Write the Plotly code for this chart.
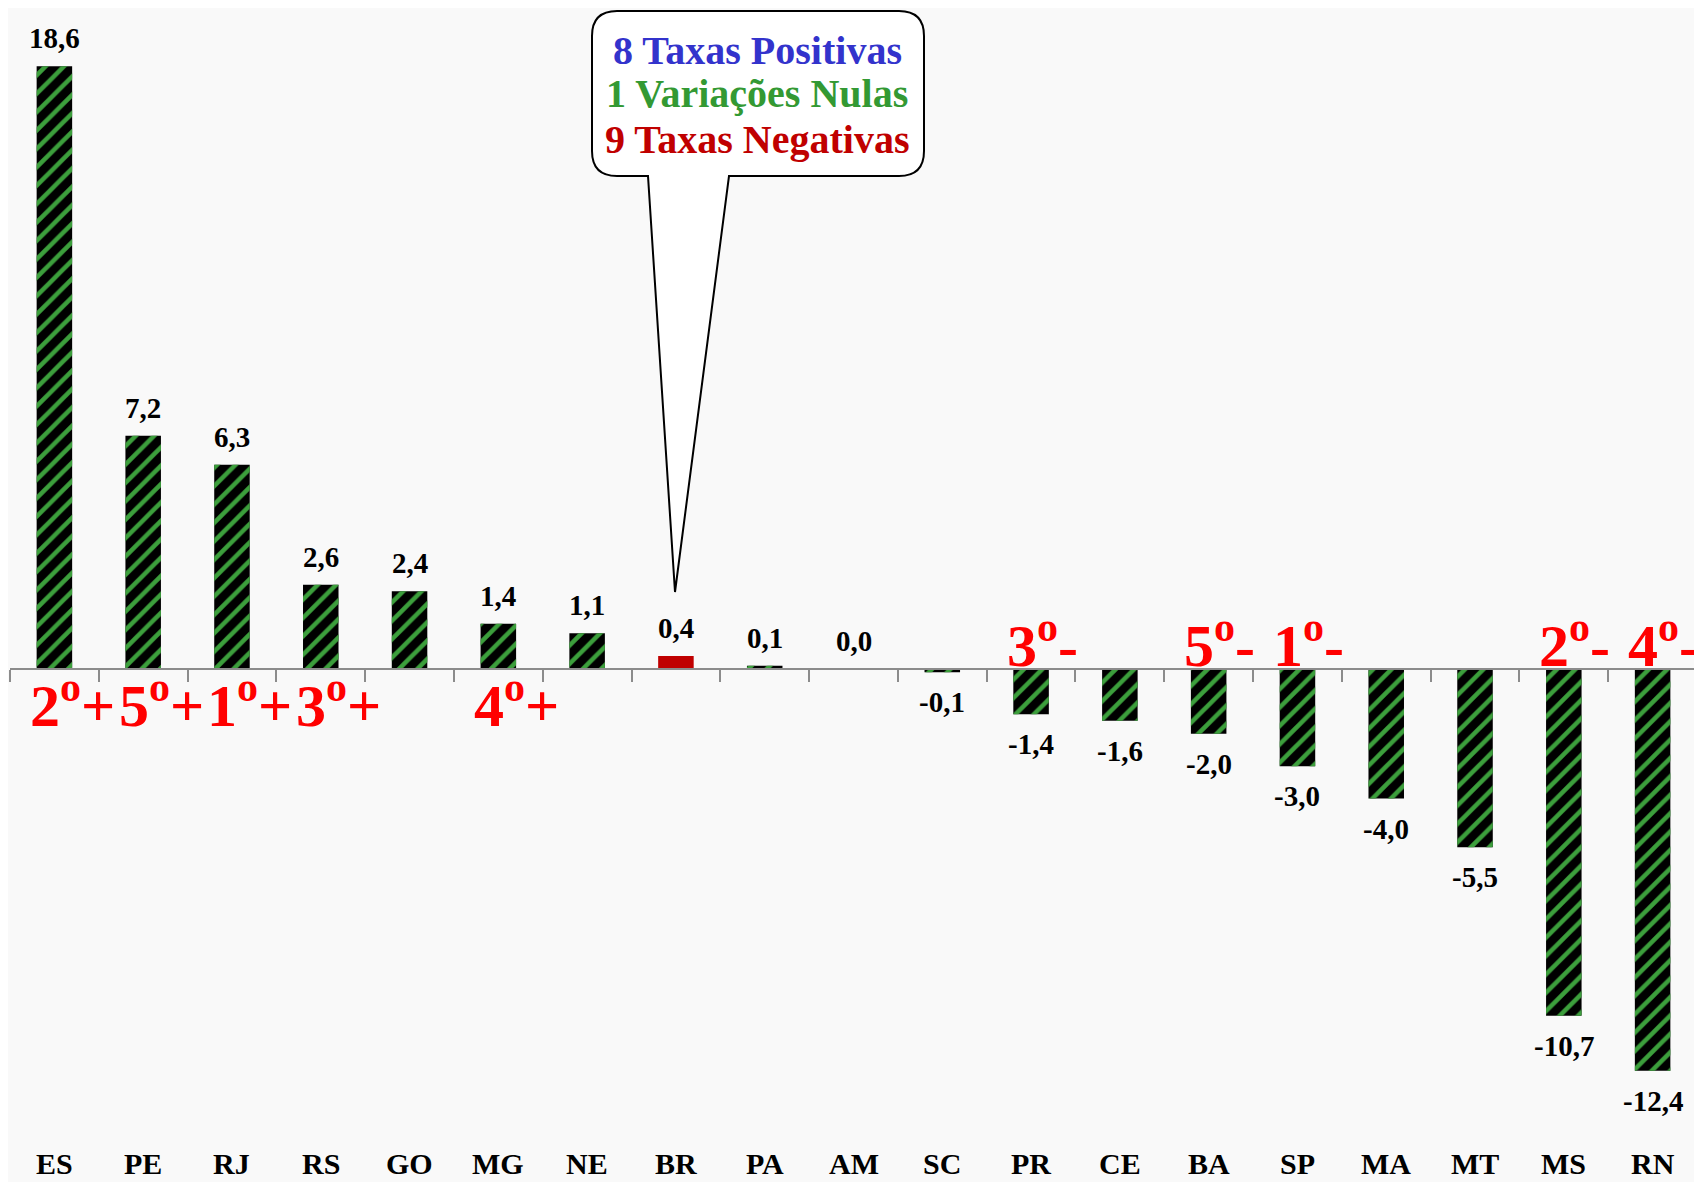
import plotly.graph_objects as go

categories = ["ES", "PE", "RJ", "RS", "GO", "MG", "NE", "BR", "PA", "AM",
              "SC", "PR", "CE", "BA", "SP", "MA", "MT", "MS", "RN"]
values = [18.6, 7.2, 6.3, 2.6, 2.4, 1.4, 1.1, 0.4, 0.1, 0.0,
          -0.1, -1.4, -1.6, -2.0, -3.0, -4.0, -5.5, -10.7, -12.4]
rank_labels = ["2", "5", "1", "3", "", "4", "", "", "", "",
               "", "3", "", "5", "1", "", "", "2", "4"]
callout_lines = ["8 Taxas Positivas", "1 Variações Nulas", "9 Taxas Negativas"]
callout_colors = ["#3333CC", "#339933", "#C00000"]

OFF = 8  # page body margin
W, H = 1702 - OFF, 1182 - OFF
ML, MR, MT, MB = 2, 5, 2, 40
PW, PH = W - ML - MR, H - MT - MB
Y_MAX, Y_MIN = 20.34, -14.6
zero_pos = (0 - Y_MIN) / (Y_MAX - Y_MIN)

xs = list(range(len(categories)))
FONT = "Liberation Serif"

base_colors = ["#C00000" if c == "BR" else "#000000" for c in categories]
stripe_colors = ["rgba(0,0,0,0)" if c == "BR" else "#3C9F3C" for c in categories]
stripe_shapes = ["" if c == "BR" else "/" for c in categories]

fig = go.Figure()
# solid base bars
fig.add_trace(go.Bar(
    x=xs, y=values, width=0.4,
    marker=dict(color=base_colors, line=dict(width=0)),
    hoverinfo="skip",
))
# green diagonal hatching on top
fig.add_trace(go.Bar(
    x=xs, y=values, width=0.4,
    marker=dict(color=stripe_colors, line=dict(width=0),
                pattern=dict(shape=stripe_shapes, fillmode="replace",
                             size=13, solidity=0.35, fgopacity=1)),
    hoverinfo="skip",
))

ann = []
# value labels
for x, v in zip(xs, values):
    txt = f"{v:.1f}".replace(".", ",")
    if v >= 0:
        ann.append(dict(x=x, y=v, text=txt, showarrow=False, yanchor="bottom",
                        yshift=10, font=dict(family=FONT, size=29, color="#000", weight="bold")))
    else:
        ann.append(dict(x=x, y=v, text=txt, showarrow=False, yanchor="top",
                        yshift=-12, font=dict(family=FONT, size=29, color="#000", weight="bold")))
# rank labels
for x, v, r in zip(xs, values, rank_labels):
    if not r:
        continue
    if v > 0:
        ann.append(dict(x=x, y=0, text=f"{r}<sup>o</sup>+", showarrow=False, yanchor="top",
                        xshift=18, yshift=7,
                        font=dict(family=FONT, size=60, color="#FF0000", weight="bold")))
    else:
        ann.append(dict(x=x, y=0, text=f"{r}<sup>o</sup>-", showarrow=False, yanchor="bottom",
                        xshift=11, yshift=-12,
                        font=dict(family=FONT, size=60, color="#FF0000", weight="bold")))
# category labels
for x, c in zip(xs, categories):
    ann.append(dict(x=x, y=0, yref="paper", text=c, showarrow=False, yanchor="top",
                    yshift=-3, font=dict(family=FONT, size=30, color="#000", weight="bold")))

# callout (decoration, page pixel layout converted to paper coords)
def px(xp):
    return (xp - OFF - ML) / PW

def py(yp):
    return (MT + PH - (yp - OFF)) / PH

bx0, bx1, by0, by1, r = 592, 924, 11, 176, 25
p1, p2, tipx, tipy = 648, 729, 675, 592
path = (
    f"M {px(bx0 + r)},{py(by0)} L {px(bx1 - r)},{py(by0)} "
    f"Q {px(bx1)},{py(by0)} {px(bx1)},{py(by0 + r)} "
    f"L {px(bx1)},{py(by1 - r)} Q {px(bx1)},{py(by1)} {px(bx1 - r)},{py(by1)} "
    f"L {px(p2)},{py(by1)} L {px(tipx)},{py(tipy)} L {px(p1)},{py(by1)} "
    f"L {px(bx0 + r)},{py(by1)} Q {px(bx0)},{py(by1)} {px(bx0)},{py(by1 - r)} "
    f"L {px(bx0)},{py(by0 + r)} Q {px(bx0)},{py(by0)} {px(bx0 + r)},{py(by0)} Z"
)
fig.add_shape(type="path", xref="paper", yref="paper", path=path,
              fillcolor="#FFFFFF", line=dict(color="#000000", width=2), layer="above")

for line, col, yc in zip(callout_lines, callout_colors, [50, 94, 139]):
    ann.append(dict(x=px(757), y=py(yc), xref="paper", yref="paper", text=line,
                    showarrow=False, xanchor="center", yanchor="middle",
                    font=dict(family=FONT, size=40, color=col, weight="bold")))

fig.update_layout(
    width=W, height=H,
    margin=dict(l=ML, r=MR, t=MT, b=MB),
    paper_bgcolor="#F9F9F9", plot_bgcolor="#F9F9F9",
    showlegend=False, barmode="overlay",
    annotations=ann,
    xaxis=dict(range=[-0.5, len(categories) - 0.5], anchor="free", position=zero_pos,
               showline=True, linecolor="#8C8C8C", linewidth=1.5,
               tickmode="array", tickvals=[i - 0.5 for i in range(len(categories) + 1)],
               ticks="outside", ticklen=12, tickwidth=1.5, tickcolor="#8C8C8C",
               showticklabels=False, showgrid=False, zeroline=False, fixedrange=True),
    yaxis=dict(range=[Y_MIN, Y_MAX], visible=False, showgrid=False, zeroline=False,
               fixedrange=True),
)

fig.write_html("out.html", config={"displayModeBar": False})
